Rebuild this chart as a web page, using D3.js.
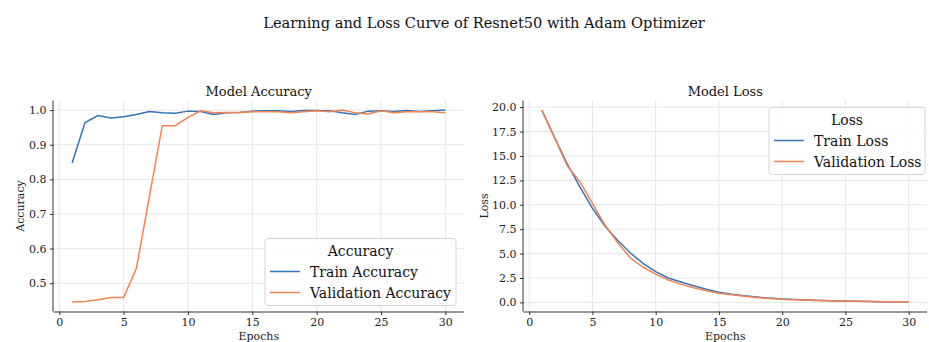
<!DOCTYPE html>
<html lang="en">
<head>
<meta charset="UTF-8">
<title>Learning and Loss Curve of Resnet50 with Adam Optimizer</title>
<script src="https://d3js.org/d3.v7.min.js"></script>
<style>
    body { margin: 0; background: #fff; font-family: "DejaVu Serif", serif; }
    .grid line { stroke: #e6e6e6; stroke-width: 1; }
    .axis path, .axis line { stroke: #333; }
    .axis text { font-family: "DejaVu Serif", serif; font-size: 11px; fill: #222; }
</style>
</head>
<body>
<div id="chart"></div>
<script>
    const epochs = d3.range(1, 31);

    const trainAcc = [0.847, 0.964, 0.984, 0.977, 0.981, 0.987, 0.996, 0.992, 0.991, 0.997,
                      0.996, 0.987, 0.992, 0.993, 0.997, 0.998, 0.998, 0.996, 0.999, 0.999,
                      0.998, 0.992, 0.987, 0.997, 0.998, 0.996, 0.999, 0.996, 0.998, 1.000];
    const valAcc = [0.446, 0.447, 0.452, 0.459, 0.459, 0.544, 0.750, 0.955, 0.955, 0.979,
                    0.998, 0.992, 0.993, 0.993, 0.995, 0.995, 0.995, 0.992, 0.995, 0.998,
                    0.995, 1.000, 0.992, 0.989, 0.998, 0.992, 0.995, 0.995, 0.995, 0.992];
    const trainLoss = [19.7, 16.9, 14.2, 11.85, 9.64, 7.8, 6.35, 5.06, 4.0, 3.16,
                       2.5, 2.1, 1.7, 1.35, 1.05, 0.85, 0.68, 0.55, 0.44, 0.36,
                       0.29, 0.24, 0.2, 0.17, 0.14, 0.12, 0.1, 0.08, 0.07, 0.06];
    const valLoss = [19.7, 16.9, 14.0, 12.36, 10.15, 7.9, 6.1, 4.55, 3.6, 2.9,
                     2.3, 1.85, 1.5, 1.2, 0.95, 0.78, 0.62, 0.5, 0.4, 0.32,
                     0.27, 0.22, 0.19, 0.17, 0.13, 0.11, 0.09, 0.08, 0.07, 0.06];

    const accTicks = [0.5, 0.6, 0.7, 0.8, 0.9, 1.0];
    const lossTicks = [0, 2.5, 5, 7.5, 10, 12.5, 15, 17.5, 20];
    const epochTicks = [0, 5, 10, 15, 20, 25, 30];

    const blue = "#3574b6";
    const orange = "#f4834f";

    const W = 929, H = 342;
    const svg = d3.select("#chart").append("svg")
        .attr("width", W)
        .attr("height", H);

    svg.append("text")
        .attr("x", 484)
        .attr("y", 28)
        .attr("text-anchor", "middle")
        .style("font-size", "14.6px")
        .style("fill", "#111")
        .text("Learning and Loss Curve of Resnet50 with Adam Optimizer");

    function panel(opts) {
        const left = opts.left, right = opts.right, top = 100.5, bottom = 311.5;
        const g = svg.append("g");

        const x = d3.scaleLinear().domain([-0.45, 31.45]).range([left, right]);
        const y = d3.scaleLinear().domain(opts.yDomain).range([bottom, top]);

        // grid
        const grid = g.append("g").attr("class", "grid");
        grid.selectAll(".gx").data(epochTicks).enter().append("line")
            .attr("x1", d => x(d)).attr("x2", d => x(d))
            .attr("y1", top).attr("y2", bottom);
        grid.selectAll(".gy").data(opts.yTicks).enter().append("line")
            .attr("x1", left).attr("x2", right)
            .attr("y1", d => y(d)).attr("y2", d => y(d));

        const line = d3.line().x((d, i) => x(epochs[i])).y(d => y(d));
        opts.series.forEach(s => {
            g.append("path")
                .datum(s.values)
                .attr("fill", "none")
                .attr("stroke", s.color)
                .attr("stroke-width", 1.5)
                .attr("d", line);
        });

        // axes
        const xAxis = d3.axisBottom(x).tickValues(epochTicks).tickSize(3.5).tickPadding(3.5)
            .tickFormat(d3.format("d"));
        g.append("g").attr("class", "axis")
            .attr("transform", `translate(0,${bottom})`)
            .call(xAxis)
            .call(a => a.select(".domain").attr("d", `M${left},0.5H${right}`));

        const yAxis = d3.axisLeft(y).tickValues(opts.yTicks).tickSize(3.5).tickPadding(3.5)
            .tickFormat(d3.format(".1f"));
        g.append("g").attr("class", "axis")
            .attr("transform", `translate(${left},0)`)
            .call(yAxis)
            .call(a => a.select(".domain").attr("d", `M-0.5,${top}V${bottom}`));

        // titles
        g.append("text")
            .attr("x", (left + right) / 2)
            .attr("y", 96)
            .attr("text-anchor", "middle")
            .style("font-size", "13px")
            .style("fill", "#111")
            .text(opts.title);

        g.append("text")
            .attr("x", (left + right) / 2)
            .attr("y", 339.5)
            .attr("text-anchor", "middle")
            .style("font-size", "11px")
            .style("fill", "#222")
            .text("Epochs");

        g.append("text")
            .attr("transform", `translate(${opts.ylabelX},${(top + bottom) / 2}) rotate(-90)`)
            .attr("text-anchor", "middle")
            .style("font-size", "11px")
            .style("fill", "#222")
            .text(opts.ylabel);

        // legend
        const lg = g.append("g").attr("transform", `translate(${opts.legend.x},${opts.legend.y})`);
        lg.append("rect")
            .attr("width", opts.legend.w).attr("height", 67)
            .attr("rx", 3)
            .attr("fill", "rgba(255,255,255,0.85)")
            .attr("stroke", "#d6d6d6");
        lg.append("text")
            .attr("x", opts.legend.w / 2).attr("y", 17)
            .attr("text-anchor", "middle")
            .style("font-size", "14px")
            .style("fill", "#111")
            .text(opts.legend.title);
        opts.series.forEach((s, i) => {
            const yy = 33 + i * 21;
            lg.append("line")
                .attr("x1", 5).attr("x2", 35)
                .attr("y1", yy).attr("y2", yy)
                .attr("stroke", s.color).attr("stroke-width", 1.5);
            lg.append("text")
                .attr("x", 45).attr("y", yy + 5)
                .style("font-size", "14px")
                .style("fill", "#111")
                .text(s.name);
        });
    }

    panel({
        left: 53.5, right: 464,
        yDomain: [0.4183, 1.0277],
        yTicks: accTicks,
        title: "Model Accuracy",
        ylabel: "Accuracy",
        ylabelX: 24,
        series: [
            { name: "Train Accuracy", values: trainAcc, color: blue },
            { name: "Validation Accuracy", values: valAcc, color: orange }
        ],
        legend: { x: 265, y: 238.5, w: 191, title: "Accuracy" }
    });

    panel({
        left: 523.5, right: 927,
        yDomain: [-0.93, 20.68],
        yTicks: lossTicks,
        title: "Model Loss",
        ylabel: "Loss",
        ylabelX: 488,
        series: [
            { name: "Train Loss", values: trainLoss, color: blue },
            { name: "Validation Loss", values: valLoss, color: orange }
        ],
        legend: { x: 769, y: 107.5, w: 156, title: "Loss" }
    });
</script>
</body>
</html>
